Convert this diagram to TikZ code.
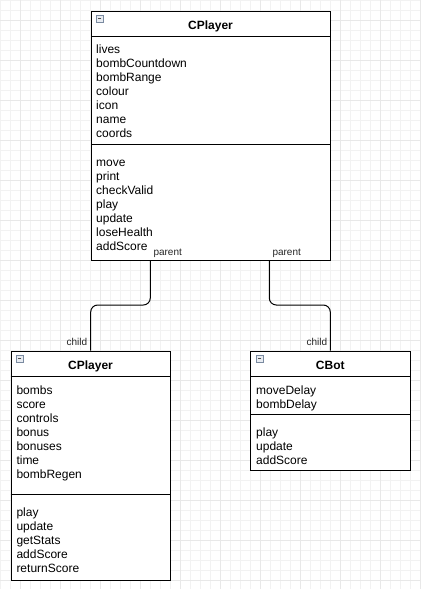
\documentclass[tikz,border=0pt]{standalone}
\usepackage{fontspec}
\setmainfont{Liberation Sans}
\definecolor{iconedge}{HTML}{7A8AA0}
\definecolor{iconfill}{HTML}{E8ECF2}
\begin{document}
\begin{tikzpicture}[x=1pt,y=-1pt,
  box/.style={draw=black,line width=1pt,fill=white,anchor=north west,inner sep=0pt,minimum width=#1},
  title/.style={font=\fontsize{12}{14}\selectfont\bfseries,anchor=base,inner sep=0pt},
  item/.style={font=\fontsize{12}{14}\selectfont,anchor=base west,inner sep=0pt},
  lbl/.style={font=\fontsize{10}{12}\selectfont,inner sep=0pt,text=black!85},
  divider/.style={line width=1pt},
  conn/.style={line width=1pt,rounded corners=7pt},
  icon/.style={draw=iconedge,fill=iconfill,line width=0.7pt,minimum size=7pt,inner sep=0pt,anchor=north west}
]
\useasboundingbox (0,0) rectangle (421,589);
\fill[white] (0,0) rectangle (421,589);
% grid
\foreach \g in {0,10,...,420} \draw[black!5,line width=0.6pt] (\g,0) -- (\g,589);
\foreach \g in {0,10,...,580} \draw[black!5,line width=0.6pt] (0,\g) -- (421,\g);
\foreach \g in {20,60,...,420} \draw[black!9,line width=0.6pt] (\g,0) -- (\g,589);
\foreach \g in {20,60,...,580} \draw[black!9,line width=0.6pt] (0,\g) -- (421,\g);

% boxes
\node[box=239pt,minimum height=249.5pt] (top) at (91,10.7) {};
\node[box=159.5pt,minimum height=229.5pt] (left) at (10.7,350.5) {};
\node[box=160pt,minimum height=119.5pt] (right) at (250.3,350.5) {};

% dividers
\draw[divider] (top.west |- 0,36.7) -- (top.east |- 0,36.7);
\draw[divider] (top.west |- 0,144.3) -- (top.east |- 0,144.3);
\draw[divider] (left.west |- 0,376.3) -- (left.east |- 0,376.3);
\draw[divider] (left.west |- 0,494.3) -- (left.east |- 0,494.3);
\draw[divider] (right.west |- 0,376.3) -- (right.east |- 0,376.3);
\draw[divider] (right.west |- 0,414.3) -- (right.east |- 0,414.3);

% icons
\foreach \n/\x/\y in {itop/96/15,ileft/16/355,iright/256/355} {
  \node[icon] (\n) at (\x,\y) {};
  \draw[black!70,line width=0.8pt] ([xshift=1.6pt]\n.center) -- ([xshift=-1.6pt]\n.center);
}

% titles
\node[title] (ttop) at (210.5,29.3) {CPlayer};
\node[title] (tleft) at (90.5,369.3) {CPlayer};
\node[title] (tright) at (330.3,369.3) {CBot};

% items
\foreach \t [count=\i from 0] in {lives,bombCountdown,bombRange,colour,icon,name,coords}
  \node[item] (ta\i) at (96,53.5+14*\i) {\t};
\foreach \t [count=\i from 0] in {move,print,checkValid,play,update,loseHealth,addScore}
  \node[item] (tm\i) at (96,166.5+14*\i) {\t};
\foreach \t [count=\i from 0] in {bombs,score,controls,bonus,bonuses,time,bombRegen}
  \node[item] (la\i) at (16.3,394+14*\i) {\t};
\foreach \t [count=\i from 0] in {play,update,getStats,addScore,returnScore}
  \node[item] (lm\i) at (16.3,516.3+14*\i) {\t};
\foreach \t [count=\i from 0] in {moveDelay,bombDelay}
  \node[item] (ra\i) at (256,394+14*\i) {\t};
\foreach \t [count=\i from 0] in {play,update,addScore}
  \node[item] (rm\i) at (256,436+14*\i) {\t};

% connector ends
\coordinate (p1) at (top.south -| 150.3,0);
\coordinate (p2) at (top.south -| 269.3,0);
\coordinate (c1) at (left.north -| 90.7,0);
\coordinate (c2) at (right.north -| 330.3,0);
\draw[conn] (p1) -- (150.3,305) -| (c1);
\draw[conn] (p2) -- (269.3,305) -| (c2);

% labels
\node[lbl,anchor=base west] (lp1) at (153.3,255.7) {parent};
\node[lbl,anchor=base west] (lp2) at (272.3,255.7) {parent};
\node[lbl,anchor=base east] (lc1) at (87.3,345.7) {child};
\node[lbl,anchor=base east] (lc2) at (327.3,345.7) {child};
\end{tikzpicture}
\end{document}
